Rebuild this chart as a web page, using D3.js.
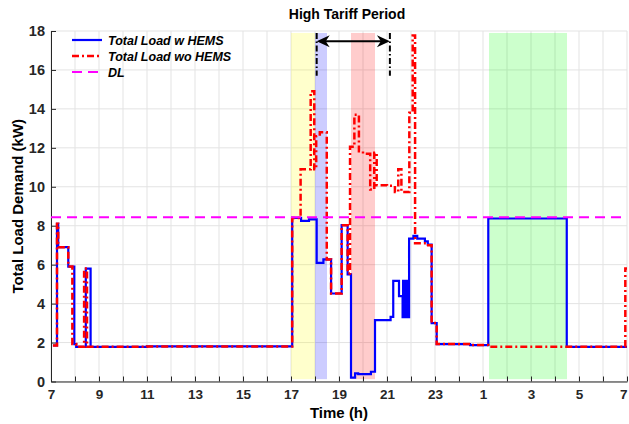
<!DOCTYPE html>
<html><head><meta charset="utf-8">
<script src="https://cdn.jsdelivr.net/npm/d3@7"></script>
<style>body{margin:0;background:#fff}svg{display:block}</style>
</head><body><svg id="c" width="629" height="424"></svg>
<script>
// ---- data (time in hours elapsed since 07:00) ----
const xTickHours = [0,2,4,6,8,10,12,14,16,18,20,22,24];
const xTickLabels = ["7","9","11","13","15","17","19","21","23","1","3","5","7"];
const xMinorHours = [0,1,2,3,4,5,6,7,8,9,10,11,12,13,14,15,16,17,18,19,20,21,22,23,24];
const yTicks = [0,2,4,6,8,10,12,14,16,18];

const timeW = [0.08,0.25,0.30,0.72,0.97,1.05,1.45,1.65,4.0,10.05,10.42,10.75,11.07,11.35,11.67,12.11,12.36,12.50,12.67,12.80,13.33,13.50,14.15,14.26,14.50,
  14.65,14.67,14.69,14.71,14.73,14.75,14.77,14.79,14.81,14.83,14.85,14.87,14.89,14.92,15.10,15.26,15.58,15.70,15.86,16.07,17.46,18.22,21.49,24.0];
const loadW = [1.85,8.10,6.90,5.90,1.92,1.78,5.80,1.78,1.80,8.40,8.25,8.33,6.09,6.27,4.52,8.03,5.50,0.20,0.42,0.38,0.50,3.15,3.32,5.17,4.38,
  3.30,5.17,3.30,5.17,3.30,5.17,3.30,5.17,3.30,5.17,3.30,5.17,3.30,7.34,7.48,7.34,7.20,7.03,3.00,1.92,1.87,8.37,1.78,1.78];

const timeWo = [0.08,0.25,0.30,0.72,0.89,1.05,1.38,1.50,4.0,10.05,10.40,10.82,10.97,11.05,11.20,11.49,11.67,12.11,12.36,12.46,12.64,12.83,13.00,13.30,13.47,13.57,14.00,14.33,14.47,14.60,14.93,15.07,15.17,15.65,15.86,16.07,17.46,18.22,23.93,24.0];
const loadWo = [1.85,8.10,6.90,5.90,1.92,1.78,5.80,1.78,1.80,8.40,10.90,14.90,10.90,12.60,12.80,6.27,4.52,8.03,5.55,12.05,13.70,11.82,11.70,9.86,11.75,10.08,10.05,9.73,10.90,9.73,13.80,17.77,7.10,7.00,3.00,1.92,1.87,1.78,5.80,5.80];

const demandLimit = 8.43;
const bandStart = [10.0, 11.0, 12.5, 18.25];
const bandEnd   = [11.0, 11.5, 13.5, 21.5];
const bandColor = ["#ffff00","#0000ff","#ff0000","#00ff00"];
const tariffMarks = [11.07, 14.12];
const tariffTitle = "High Tariff Period";
const legendLabels = ["Total Load w HEMS","Total Load wo HEMS","DL"];

// ---- drawing ----
const svg = d3.select("#c");
const W = 629, H = 424;
const m = {l:51, r:2, t:31, b:42.5};
const x = d3.scaleLinear().domain([0,24]).range([m.l, W - m.r]);
const y = d3.scaleLinear().domain([0,18]).range([H - m.b, m.t]);
const font = "'Liberation Sans', Arial, Helvetica, sans-serif";
const axisCol = "#262626";

// grid
const g = svg.append("g");
g.selectAll(".vg").data(xMinorHours).join("line")
  .attr("x1", d=>x(d)).attr("x2", d=>x(d)).attr("y1", y(0)).attr("y2", y(18))
  .attr("stroke","#e3e3e3").attr("stroke-width",1);
g.selectAll(".hg").data(yTicks).join("line")
  .attr("x1", x(0)).attr("x2", x(24)).attr("y1", d=>y(d)).attr("y2", d=>y(d))
  .attr("stroke","#e3e3e3").attr("stroke-width",1);

// bands
svg.append("g").selectAll("rect").data(bandStart).join("rect")
  .attr("x",(d)=>x(d)).attr("width",(d,i)=>x(bandEnd[i])-x(d))
  .attr("y", y(17.9)).attr("height", y(0.12)-y(17.9))
  .attr("fill",(d,i)=>bandColor[i]).attr("fill-opacity",0.2);

// axes
const xAxis = d3.axisBottom(x).tickValues(xMinorHours).tickSizeInner(-5).tickSizeOuter(0).tickPadding(8)
  .tickFormat(d => { const k = xTickHours.indexOf(d); return k >= 0 ? xTickLabels[k] : ""; });
const gx = svg.append("g").attr("transform",`translate(0,${y(0)})`).call(xAxis);
const yAxis = d3.axisLeft(y).tickValues(yTicks).tickSizeInner(-5).tickSizeOuter(0).tickPadding(6);
const gy = svg.append("g").attr("transform",`translate(${x(0)},0)`).call(yAxis);
[gx,gy].forEach(a=>{
  a.selectAll("path,line").attr("stroke",axisCol);
  a.selectAll("text").attr("fill","#262626").attr("font-family",font).attr("font-weight","bold");
});
gx.selectAll("text").attr("font-size",13.5);
gy.selectAll("text").attr("font-size",14.5);
gx.selectAll("text").filter(d=>d===24).attr("text-anchor","end").attr("dx",0);

// lines
const lineGen = (tt,vv) => d3.line().curve(d3.curveStepAfter).x((d,i)=>x(tt[i])).y((d,i)=>y(vv[i]))(tt);
svg.append("path").attr("d", lineGen(timeW,loadW)).attr("fill","none")
  .attr("stroke","#0000ff").attr("stroke-width",2.2);
svg.append("path").attr("d", lineGen(timeWo,loadWo)).attr("fill","none")
  .attr("stroke","#ff0000").attr("stroke-width",2.5).attr("stroke-dasharray","7,3,2,3");
svg.append("line").attr("x1",x(0)).attr("x2",x(24)).attr("y1",y(demandLimit)).attr("y2",y(demandLimit))
  .attr("stroke","#ff00ff").attr("stroke-width",2).attr("stroke-dasharray","10,6");

// tariff markers + arrow
svg.append("g").selectAll("line").data(tariffMarks).join("line")
  .attr("x1",d=>x(d)).attr("x2",d=>x(d)).attr("y1",y(17.9)).attr("y2",y(15.7))
  .attr("stroke","#000").attr("stroke-width",2).attr("stroke-dasharray","6,2.5,1.5,2.5");
const ay = y(17.48), ax1 = x(tariffMarks[0]), ax2 = x(tariffMarks[1]);
svg.append("line").attr("x1",ax1+4).attr("x2",ax2-4).attr("y1",ay).attr("y2",ay).attr("stroke","#000").attr("stroke-width",2);
svg.append("path").attr("d",`M${ax1},${ay} L${ax1+13},${ay-6} L${ax1+9},${ay} L${ax1+13},${ay+6} Z`).attr("fill","#000");
svg.append("path").attr("d",`M${ax2},${ay} L${ax2-13},${ay-6} L${ax2-9},${ay} L${ax2-13},${ay+6} Z`).attr("fill","#000");

// title and labels
svg.append("text").attr("x",347).attr("y",19).attr("text-anchor","middle")
  .attr("font-family",font).attr("font-weight","bold").attr("font-size",14).attr("fill","#000").text(tariffTitle);
svg.append("text").attr("x",(x(0)+x(24))/2).attr("y",418).attr("text-anchor","middle")
  .attr("font-family",font).attr("font-weight","bold").attr("font-size",15).attr("fill","#000").text("Time (h)");
svg.append("text").attr("transform",`translate(23,${(y(0)+y(18))/2}) rotate(-90)`).attr("text-anchor","middle")
  .attr("font-family",font).attr("font-weight","bold").attr("font-size",15).attr("fill","#000").text("Total Load Demand (kW)");

// legend
const legStyles = [
  {c:"#0000ff", w:2.2, dash:null},
  {c:"#ff0000", w:2.5, dash:"7,3,2,3"},
  {c:"#ff00ff", w:2, dash:"10,6"}];
const lg = svg.append("g");
legendLabels.forEach((t,i)=>{
  const yy = 40 + i*16;
  const ln = lg.append("line").attr("x1",72).attr("x2",102).attr("y1",yy).attr("y2",yy)
    .attr("stroke",legStyles[i].c).attr("stroke-width",legStyles[i].w);
  if (legStyles[i].dash) ln.attr("stroke-dasharray",legStyles[i].dash);
  lg.append("text").attr("x",108).attr("y",yy+4.5).attr("font-family",font).attr("font-weight","bold")
    .attr("font-style","italic").attr("font-size",12.5).attr("fill","#000").text(t);
});
</script></body></html>
